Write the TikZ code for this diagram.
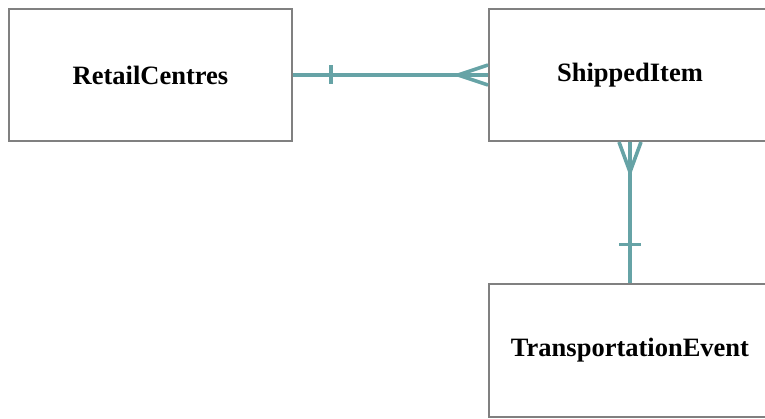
\documentclass[tikz,border=0pt]{standalone}
\usepackage{fontspec}
\setmainfont{Liberation Serif}
\usetikzlibrary{calc}
\definecolor{relteal}{RGB}{102,163,166}
\definecolor{boxgray}{RGB}{128,128,128}
\tikzset{
  entity/.style={draw=boxgray, line width=2pt, minimum width=282pt, minimum height=132pt,
    inner sep=0pt, font=\fontsize{26.5}{30}\selectfont\bfseries},
  rel/.style={draw=relteal, line width=3.6pt}
}
\begin{document}
\begin{tikzpicture}[x=1pt,y=-1pt]
  \useasboundingbox (0,0) rectangle (765,419);
  \node [entity, minimum width=283pt] (retail) at (150.5, 75) {RetailCentres};
  \node [entity] (shipped) at (630, 75) {ShippedItem};
  \node [entity] (transport) at (630, 350.5) {TransportationEvent};
  % one retail centre -- many shipped items
  \draw [rel] (retail.east) -- (shipped.west);
  \draw [rel] ($(retail.east)+(38,-9.5)$) -- ($(retail.east)+(38,9.5)$);
  \draw [rel] ($(shipped.west)+(0,-10)$) -- ($(shipped.west)+(-30,0)$) -- ($(shipped.west)+(0,10)$);
  % many shipped items -- one transportation event
  \draw [rel] (shipped.south) -- (transport.north);
  \draw [rel] ($(shipped.south)+(-11,0)$) -- ($(shipped.south)+(0,30)$) -- ($(shipped.south)+(11,0)$);
  \draw [rel] ($(transport.north)+(-11,-39)$) -- ($(transport.north)+(11,-39)$);
\end{tikzpicture}
\end{document}
